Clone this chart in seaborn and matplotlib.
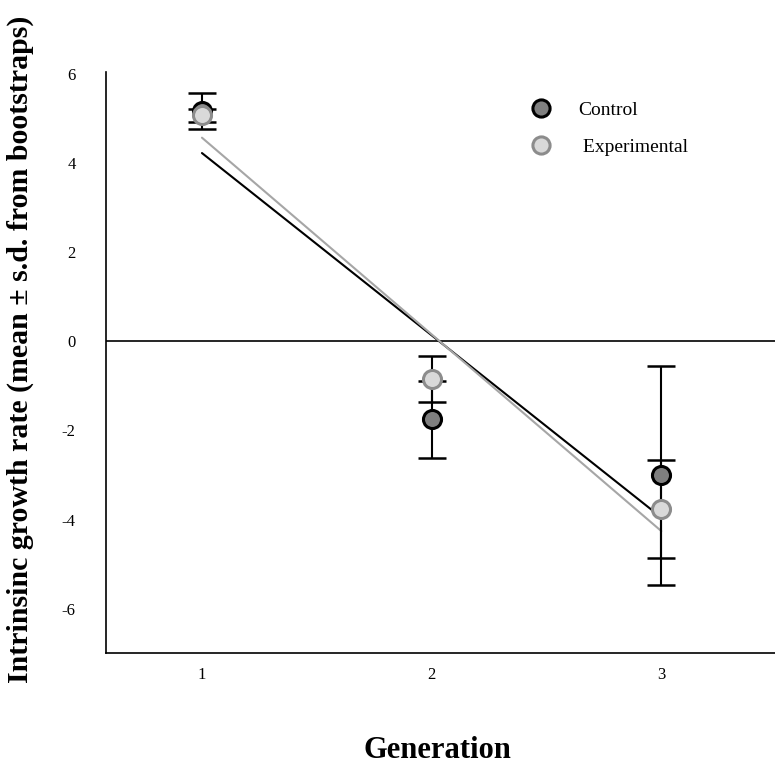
import numpy as np
import pandas as pd
import seaborn as sns
import matplotlib.pyplot as plt

# values
generation = [1, 2, 3]
control_mean = [5.17, -1.75, -3.01]
control_sd = [0.40, 0.86, 2.45]
exp_mean = [5.07, -0.84, -3.76]
exp_sd = [0.15, 0.52, 1.10]
yticks = [-6, -4, -2, 0, 2, 4, 6]

df = pd.DataFrame({
    'generation': generation * 2,
    'rate': control_mean + exp_mean,
    'sd': control_sd + exp_sd,
    'group': ['Control'] * 3 + [' Experimental'] * 3,
})

sns.set_style('white')
plt.rcParams['font.family'] = ['Liberation Serif', 'DejaVu Serif']
plt.rcParams['axes.unicode_minus'] = False
plt.rcParams['text.color'] = 'black'
plt.rcParams['axes.labelcolor'] = 'black'
plt.rcParams['xtick.color'] = 'black'
plt.rcParams['ytick.color'] = 'black'

fig = plt.figure(figsize=(7.75, 7.64), dpi=100)
ax = fig.add_axes([0.137, 0.145, 0.863, 0.761])

ax.axhline(0, color='black', lw=1.2, zorder=1)

# trend lines (least squares through the means)
sub = df[df.group == 'Control']
sns.regplot(data=sub, x='generation', y='rate', scatter=False, ci=None,
            truncate=True, ax=ax, line_kws=dict(color='black', lw=1.5, zorder=2))
sub = df[df.group == ' Experimental']
sns.regplot(data=sub, x='generation', y='rate', scatter=False, ci=None,
            truncate=True, ax=ax, line_kws=dict(color='#a6a6a6', lw=1.5, zorder=2))

styles = {
    'Control': dict(mfc='#7f7f7f', mec='black'),
    ' Experimental': dict(mfc='#d9d9d9', mec='#8c8c8c'),
}
for g, st in styles.items():
    sub = df[df.group == g]
    ax.errorbar(sub.generation, sub.rate, yerr=sub.sd, fmt='none', ecolor='black',
                elinewidth=1.5, capsize=10, capthick=1.8, zorder=3)
for g, st in styles.items():
    sub = df[df.group == g]
    ax.plot(sub.generation, sub.rate, 'o', ms=13, mew=2.2, label=g, zorder=4, **st)

ax.set_xlim(0.583, 3.495)
ax.set_ylim(-7, 6.05)
ax.set_xticks(generation)
ax.set_yticks(yticks)
ax.tick_params(axis='both', length=0, labelsize=12)
ax.tick_params(axis='y', pad=22)
ax.tick_params(axis='x', pad=10)
sns.despine(ax=ax)
for s in ['left', 'bottom']:
    ax.spines[s].set_color('black')
    ax.spines[s].set_linewidth(1.2)

ax.set_xlabel('Generation', fontsize=22, fontweight='bold')
ax.set_ylabel('Intrinsinc growth rate (mean ± s.d. from bootstraps)',
              fontsize=21.5, fontweight='bold')
ax.xaxis.set_label_coords(0.495, -0.143)
ax.yaxis.set_label_coords(-0.108, 0.522)

ax.legend(loc='upper left', bbox_to_anchor=(0.663, 0.89), bbox_transform=fig.transFigure,
          frameon=False, fontsize=14, handletextpad=1.4, labelspacing=1.0,
          handlelength=1.0, markerscale=0.95)

fig.savefig('out.png', dpi=100)
